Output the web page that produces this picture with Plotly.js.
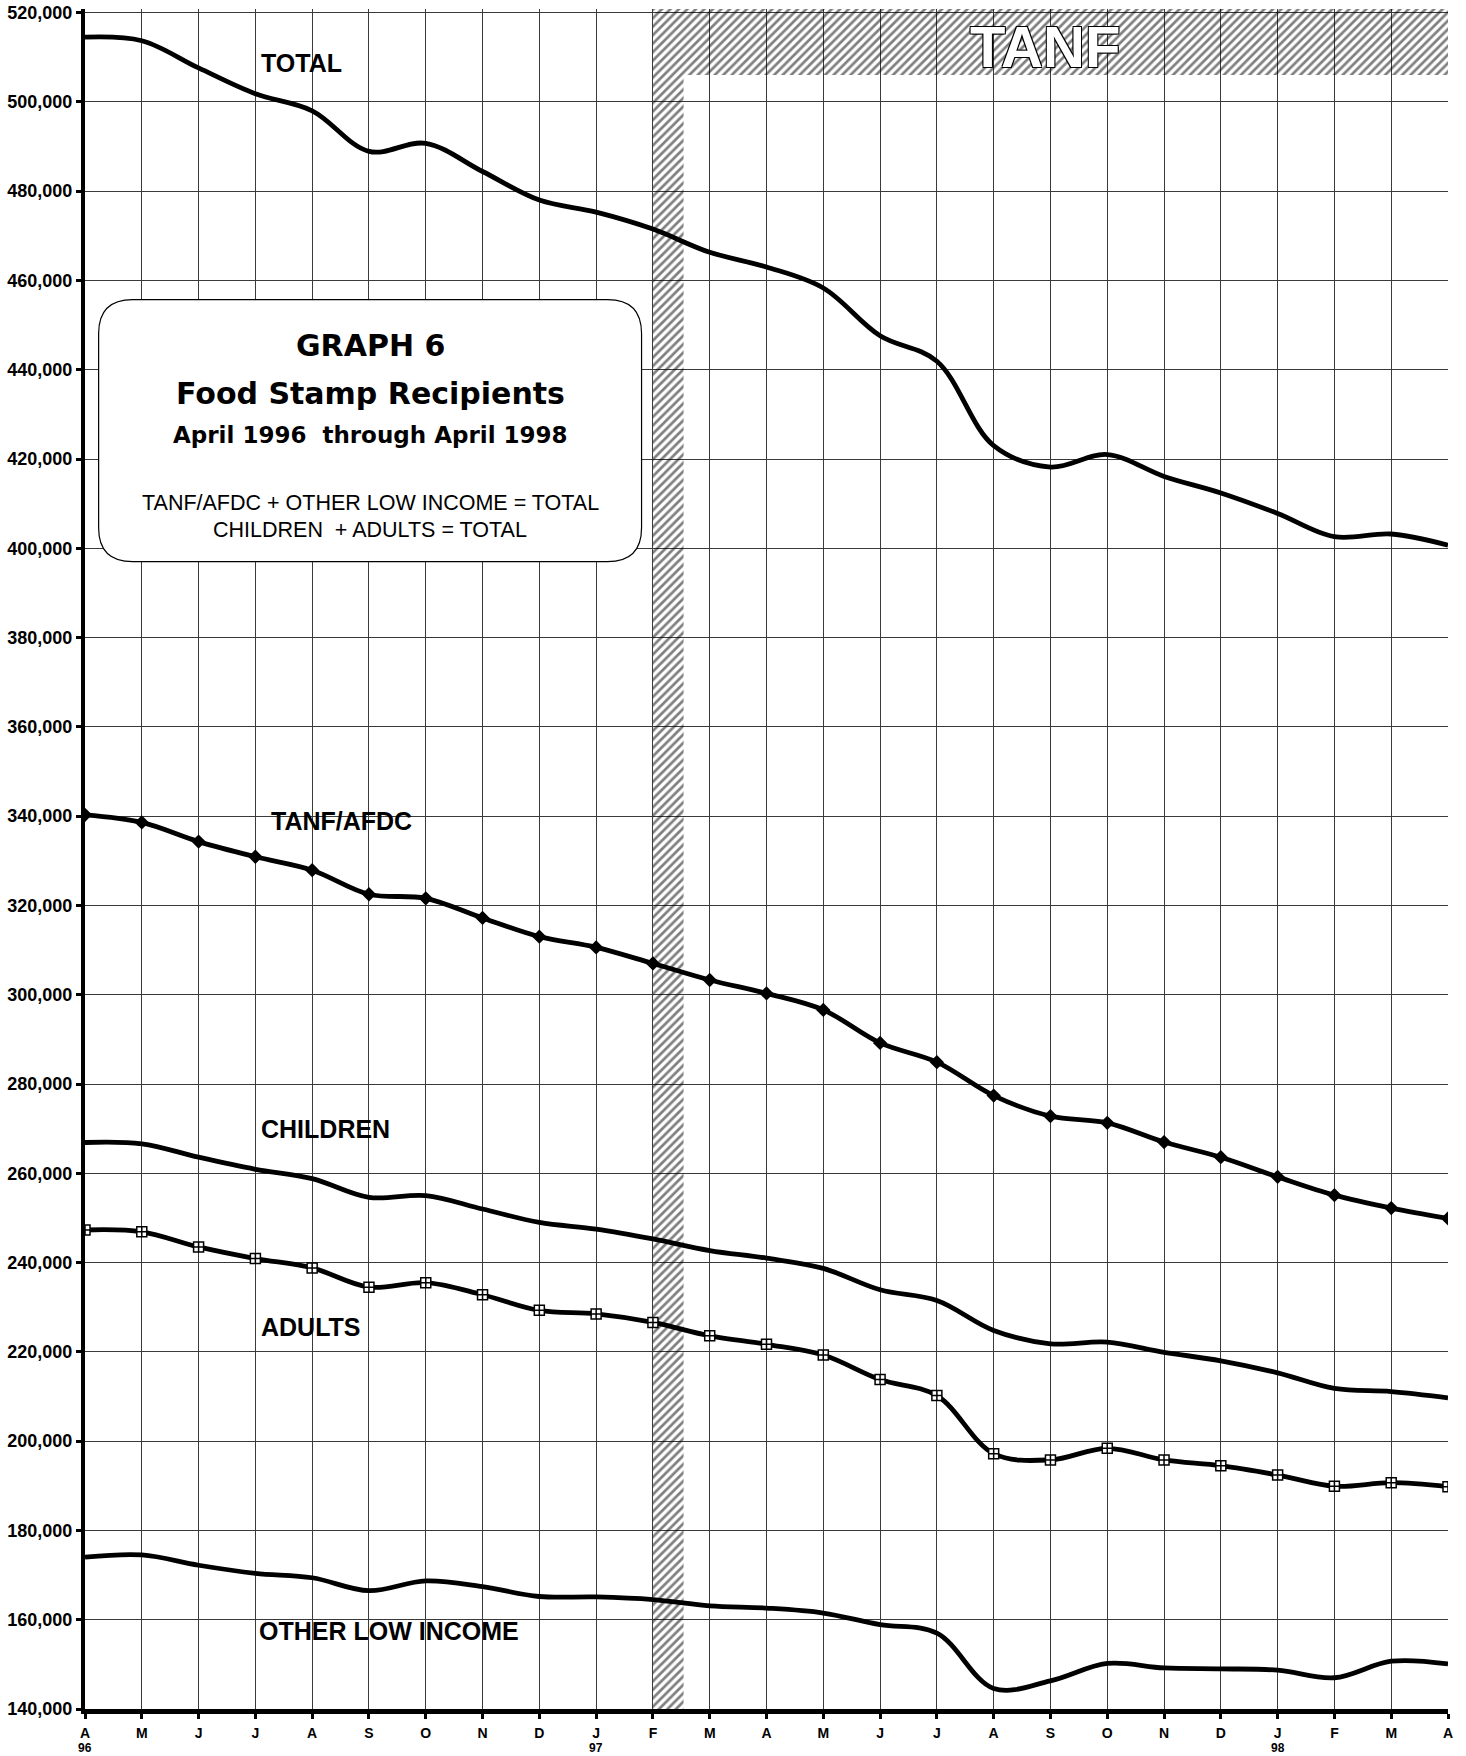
<!DOCTYPE html>
<html>
<head>
<meta charset="utf-8">
<script src="https://cdn.plot.ly/plotly-3.0.1.min.js"></script>
<style>
  html, body { margin: 0; padding: 0; background: #ffffff; }
  #chart { width: 1466px; height: 1756px; }
</style>
</head>
<body>
<div id="chart"></div>
<script>
// ---- Data (monthly, April 1996 through April 1998) ----
const monthIndex = [0,1,2,3,4,5,6,7,8,9,10,11,12,13,14,15,16,17,18,19,20,21,22,23,24];
const monthTickText = ['A','M','J','J','A','S','O','N','D','J','F','M','A','M','J','J','A','S','O','N','D','J','F','M','A'];
const yearTickIndex = [0, 9, 21];
const yearTickText = ['96', '97', '98'];

const total    = [514500, 513700, 507600, 501800, 498000, 488900, 490700, 484400, 478000, 475300, 471500, 466300, 463000, 458300, 447600, 441900, 423000, 418200, 421000, 416100, 412400, 407800, 402600, 403200, 400700];
const tanfAfdc = [340300, 338600, 334300, 330900, 327900, 322500, 321600, 317200, 313000, 310600, 307000, 303300, 300300, 296600, 289200, 284900, 277400, 272800, 271300, 267000, 263600, 259200, 255100, 252200, 249900];
const children = [266900, 266600, 263600, 260900, 258800, 254600, 255000, 252000, 249000, 247500, 245300, 242700, 241000, 238700, 233900, 231500, 224800, 221800, 222200, 219900, 218000, 215300, 211800, 211100, 209700];
const adults   = [247300, 246900, 243500, 240900, 238800, 234500, 235500, 232800, 229300, 228500, 226600, 223600, 221700, 219300, 213800, 210200, 197200, 195800, 198400, 195800, 194500, 192400, 189900, 190700, 189800];
const otherLow = [174000, 174500, 172200, 170400, 169400, 166500, 168700, 167400, 165200, 165100, 164500, 163100, 162600, 161500, 158900, 157000, 144600, 146300, 150200, 149200, 149000, 148700, 147000, 150700, 150100];

// TANF period marker: starts February 1997 (index 10)
const tanfStartIndex = 10;
const tanfEndIndex = 24;
const tanfLabel = 'TANF';

const seriesLabels = ['TOTAL', 'TANF/AFDC', 'CHILDREN', 'ADULTS', 'OTHER LOW INCOME'];
const titleLines = ['GRAPH 6', 'Food Stamp Recipients', 'April 1996\u00a0\u00a0through April 1998',
                    'TANF/AFDC + OTHER LOW INCOME = TOTAL', 'CHILDREN\u00a0\u00a0+ ADULTS = TOTAL'];

// ---- Axes ----
const yMin = 140000, yMax = 520800;
const bannerBottom = 506000;

const hatch = {shape: '/', fgcolor: '#000000', bgcolor: 'rgba(0,0,0,0)', size: 6, solidity: 0.45, fillmode: 'overlay'};

const lineStyle = {color: '#000000', width: 4.8, shape: 'spline', smoothing: 1};

const traces = [
  // hatched TANF strip (vertical) and banner (top)
  {type: 'bar', x: [tanfStartIndex + 0.27], y: [bannerBottom - yMin], base: [yMin], width: [0.54],
   marker: {color: 'rgba(0,0,0,0)', line: {width: 0}, pattern: hatch}, hoverinfo: 'skip', showlegend: false},
  {type: 'bar', x: [(tanfStartIndex + tanfEndIndex) / 2], y: [yMax - bannerBottom], base: [bannerBottom],
   width: [tanfEndIndex - tanfStartIndex],
   marker: {color: 'rgba(0,0,0,0)', line: {width: 0}, pattern: hatch}, hoverinfo: 'skip', showlegend: false},
  {type: 'scatter', mode: 'lines', x: monthIndex, y: total, line: lineStyle, name: seriesLabels[0], showlegend: false},
  {type: 'scatter', mode: 'lines+markers', x: monthIndex, y: tanfAfdc, line: lineStyle,
   marker: {symbol: 'diamond', size: 11, color: '#000000'}, name: seriesLabels[1], showlegend: false},
  {type: 'scatter', mode: 'lines', x: monthIndex, y: children, line: lineStyle, name: seriesLabels[2], showlegend: false},
  {type: 'scatter', mode: 'lines+markers', x: monthIndex, y: adults, line: lineStyle,
   marker: {symbol: 'square-cross', size: 10, color: '#ffffff', line: {color: '#000000', width: 1.5}},
   name: seriesLabels[3], showlegend: false},
  {type: 'scatter', mode: 'lines', x: monthIndex, y: otherLow, line: lineStyle, name: seriesLabels[4], showlegend: false}
];

// ---- Rounded title box (in data coordinates) ----
function roundedRect(x0, x1, y0, y1, rx, ry) {
  return 'M ' + (x0 + rx) + ',' + y1 +
    ' L ' + (x1 - rx) + ',' + y1 +
    ' Q ' + x1 + ',' + y1 + ' ' + x1 + ',' + (y1 - ry) +
    ' L ' + x1 + ',' + (y0 + ry) +
    ' Q ' + x1 + ',' + y0 + ' ' + (x1 - rx) + ',' + y0 +
    ' L ' + (x0 + rx) + ',' + y0 +
    ' Q ' + x0 + ',' + y0 + ' ' + x0 + ',' + (y0 + ry) +
    ' L ' + x0 + ',' + (y1 - ry) +
    ' Q ' + x0 + ',' + y1 + ' ' + (x0 + rx) + ',' + y1 + ' Z';
}
const box = {x0: 0.24, x1: 9.80, y0: 397000, y1: 455700, rx: 0.6, ry: 7600};
const boxCx = (box.x0 + box.x1) / 2;

const labelFont = {family: 'Liberation Sans, Arial, sans-serif', size: 25, color: '#000000', weight: 'bold'};
const heavyFont = (s) => ({family: 'DejaVu Sans, sans-serif', size: s, color: '#000000', weight: 'bold'});
const plainFont = {family: 'Liberation Sans, Arial, sans-serif', size: 21.5, color: '#000000'};

const annotations = [
  {x: 3.06, y: 508800, text: seriesLabels[0], xanchor: 'left', yanchor: 'middle', showarrow: false, font: labelFont},
  {x: 3.24, y: 339000, text: seriesLabels[1], xanchor: 'left', yanchor: 'middle', showarrow: false, font: labelFont},
  {x: 3.06, y: 270000, text: seriesLabels[2], xanchor: 'left', yanchor: 'middle', showarrow: false, font: labelFont},
  {x: 3.06, y: 225500, text: seriesLabels[3], xanchor: 'left', yanchor: 'middle', showarrow: false, font: labelFont},
  {x: 3.03, y: 157400, text: seriesLabels[4], xanchor: 'left', yanchor: 'middle', showarrow: false, font: labelFont},
  {x: boxCx, y: 445400, text: titleLines[0], showarrow: false, xanchor: 'center', yanchor: 'middle', font: heavyFont(30)},
  {x: boxCx, y: 434700, text: titleLines[1], showarrow: false, xanchor: 'center', yanchor: 'middle', font: heavyFont(30)},
  {x: boxCx, y: 425300, text: titleLines[2], showarrow: false, xanchor: 'center', yanchor: 'middle', font: heavyFont(23)},
  {x: boxCx, y: 410250, text: titleLines[3], showarrow: false, xanchor: 'center', yanchor: 'middle', font: plainFont},
  {x: boxCx, y: 404000, text: titleLines[4], showarrow: false, xanchor: 'center', yanchor: 'middle', font: plainFont},
  {x: 16.9, y: (yMax + bannerBottom) / 2 - 1000, text: tanfLabel, showarrow: false, xanchor: 'center', yanchor: 'middle',
   font: {family: 'Liberation Sans, Arial, sans-serif', size: 58, color: '#ffffff', weight: 'bold',
          shadow: '1px 1px 0 #000, -1px -1px 0 #000, 1px -1px 0 #000, -1px 1px 0 #000'}}
];
yearTickIndex.forEach((xi, i) => {
  annotations.push({x: xi, xref: 'x', y: 0, yref: 'paper', yanchor: 'top', yshift: -30, text: yearTickText[i],
    showarrow: false, font: {family: 'Liberation Sans, Arial, sans-serif', size: 12, color: '#000000', weight: 'bold'}});
});

const layout = {
  width: 1466, height: 1756,
  margin: {l: 85, r: 18, t: 9, b: 47, pad: 0},
  paper_bgcolor: '#ffffff', plot_bgcolor: '#ffffff',
  showlegend: false,
  barmode: 'overlay',
  xaxis: {
    range: [0, 24], tickmode: 'array', tickvals: monthIndex, ticktext: monthTickText,
    showgrid: true, gridcolor: '#3a3a3a', gridwidth: 1, zeroline: false,
    showline: true, linecolor: '#000000', linewidth: 5,
    ticks: 'outside', ticklen: 5, tickwidth: 3, tickcolor: '#000000', ticklabelstandoff: 2,
    tickfont: {family: 'Liberation Sans, Arial, sans-serif', size: 14, color: '#000000', weight: 'bold'},
    automargin: false, fixedrange: true
  },
  yaxis: {
    range: [yMin, yMax], tick0: 140000, dtick: 20000, tickformat: ',d',
    showgrid: true, gridcolor: '#3a3a3a', gridwidth: 1, zeroline: false,
    showline: true, linecolor: '#000000', linewidth: 4,
    ticks: 'outside', ticklen: 5, tickwidth: 3, tickcolor: '#000000',
    tickfont: {family: 'Liberation Sans, Arial, sans-serif', size: 18, color: '#000000', weight: 'bold'},
    automargin: false, fixedrange: true
  },
  shapes: [
    {type: 'path', xref: 'x', yref: 'y', path: roundedRect(box.x0, box.x1, box.y0, box.y1, box.rx, box.ry),
     fillcolor: '#ffffff', line: {color: '#000000', width: 1.2}, layer: 'above'}
  ],
  annotations: annotations
};

Plotly.newPlot('chart', traces, layout, {staticPlot: true, displayModeBar: false});
</script>
</body>
</html>
